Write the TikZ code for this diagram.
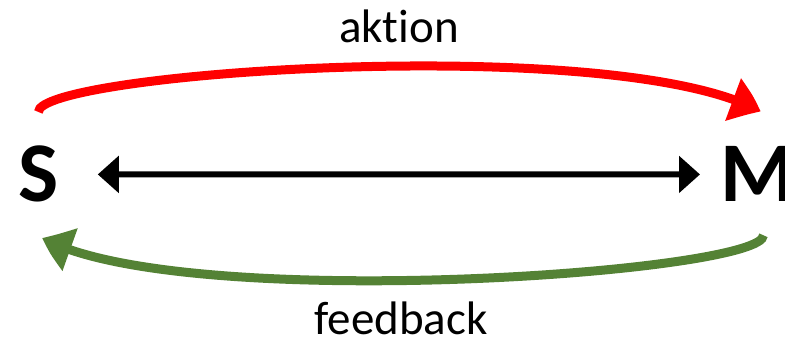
\documentclass[tikz,border=0pt]{standalone}
\usepackage{fontspec}
\setmainfont{Carlito}[Ligatures=CommonOff]
\usetikzlibrary{arrows.meta,bending}
\definecolor{aktionred}{RGB}{255,0,0}
\definecolor{feedgreen}{RGB}{84,130,53}

\begin{document}
\begin{tikzpicture}[x=1pt, y=1pt, semithick,
    party/.style={inner sep=0pt, anchor=base west, font=\fontsize{85}{90}\selectfont\bfseries},
    label/.style={anchor=base, font=\fontsize{47}{52}\selectfont},
    link/.style={line width=6pt, {Triangle[length=21pt,width=36pt]}-{Triangle[length=21pt,width=36pt]}},
    loop/.style={line width=9pt, -{Triangle[length=28pt,width=45pt,bend]}}]
\useasboundingbox (0,0) rectangle (785,338);
\node[party] (S) at (18,136) {S};
\node[party] (M) at (720,136) {M};
\draw[link, shorten <=39pt, shorten >=20pt] (S.east) -- (M.west);
\draw[loop, aktionred] ([yshift=34pt]S.north) .. controls +(0,40) and +(-140,79) .. ([shift={(3,35)}]M.north);
\draw[loop, feedgreen] ([shift={(6,-33)}]M.south) .. controls +(0,-38) and +(138,-76) .. ([shift={(4,-35)}]S.south);
\node[label] (aktion) at (399,295) {aktion};
\node[label] (feedback) at (401,4) {feedback};
\end{tikzpicture}
\end{document}
